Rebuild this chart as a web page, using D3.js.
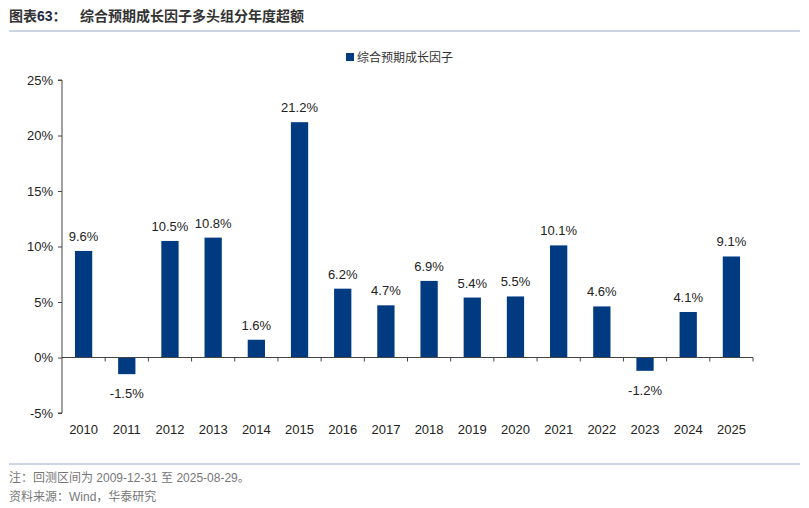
<!DOCTYPE html>
<html><head><meta charset="utf-8">
<script src="https://cdn.jsdelivr.net/npm/d3@7"></script>
<style>body{margin:0;background:#fff;}svg{display:block;}</style>
</head><body>
<svg id="c" width="809" height="508"></svg>
<script>
const categories = ["2010","2011","2012","2013","2014","2015","2016","2017","2018","2019","2020","2021","2022","2023","2024","2025"];
const values = [9.6,-1.5,10.5,10.8,1.6,21.2,6.2,4.7,6.9,5.4,5.5,10.1,4.6,-1.2,4.1,9.1];
const yTicks = [-5,0,5,10,15,20,25];
const seriesName = "综合预期成长因子";
const titleText = "综合预期成长因子多头组分年度超额";
const noteText = "注：回测区间为 2009-12-31 至 2025-08-29。";
const sourceText = "资料来源：Wind，华泰研究";

const svg = d3.select("#c");
const barColor = "#003A80";
const cjk = "'Noto Sans CJK SC', sans-serif";
const latin = "'Liberation Sans', Arial, sans-serif";
const mixed = "'Liberation Sans', 'Noto Sans CJK SC', sans-serif";

// title
const t = svg.append("text").attr("x", 9).attr("y", 21).attr("font-family", cjk).attr("font-weight", "bold").attr("font-size", 14).attr("fill", "#333");
t.append("tspan").text("图表");
t.append("tspan").attr("font-family", latin).attr("fill", "#1f2a44").text("63");
t.append("tspan").text("：");
t.append("tspan").attr("x", 80).text(titleText);
svg.append("line").attr("x1", 9).attr("x2", 800).attr("y1", 31).attr("y2", 31).attr("stroke", "#9aaec8").attr("stroke-width", 1);

// legend
svg.append("rect").attr("x", 346).attr("y", 53).attr("width", 8).attr("height", 8).attr("fill", barColor);
svg.append("text").attr("x", 357).attr("y", 61.5).attr("font-family", cjk).attr("font-size", 12).attr("fill", "#333").text(seriesName);

const x = d3.scaleBand().domain(categories).range([62, 753]).paddingInner(0.6).paddingOuter(0.3);
const y = d3.scaleLinear().domain([-5, 25]).range([413, 80]);

// y axis
const ya = svg.append("g").attr("transform", "translate(62,0)")
  .call(d3.axisLeft(y).tickValues(yTicks).tickSize(4).tickFormat(d => d + "%"));
ya.select(".domain").attr("stroke", "#444").attr("d", `M-4,${y(-5)}H0V${y(25)}H-4`);
ya.selectAll(".tick line").attr("stroke", "#444");
ya.selectAll(".tick text").attr("font-family", latin).attr("font-size", 13).attr("fill", "#222").attr("x", -9);

// bars
svg.append("g").selectAll("rect").data(values).join("rect")
  .attr("x", (d, i) => x(categories[i]))
  .attr("width", x.bandwidth())
  .attr("y", d => y(Math.max(0, d)))
  .attr("height", d => Math.abs(y(d) - y(0)))
  .attr("fill", barColor);

// x axis at zero
const step = x.step();
svg.append("line").attr("x1", 62).attr("x2", 753).attr("y1", y(0)).attr("y2", y(0)).attr("stroke", "#444");
svg.append("g").selectAll("line").data(categories).join("line")
  .attr("x1", (d, i) => 62 + step * (i + 1)).attr("x2", (d, i) => 62 + step * (i + 1))
  .attr("y1", y(0)).attr("y2", y(0) + 4).attr("stroke", "#444");

// category labels
svg.append("g").selectAll("text").data(categories).join("text")
  .attr("x", d => x(d) + x.bandwidth() / 2).attr("y", 434)
  .attr("text-anchor", "middle").attr("font-family", latin).attr("font-size", 13).attr("fill", "#222").text(d => d);

// value labels
svg.append("g").selectAll("text").data(values).join("text")
  .attr("x", (d, i) => x(categories[i]) + x.bandwidth() / 2)
  .attr("y", d => d >= 0 ? y(d) - 10 : y(d) + 24)
  .attr("text-anchor", "middle").attr("font-family", latin).attr("font-size", 13).attr("fill", "#222")
  .text(d => d.toFixed(1) + "%");

// footer
svg.append("line").attr("x1", 9).attr("x2", 800).attr("y1", 464).attr("y2", 464).attr("stroke", "#9aaec8").attr("stroke-width", 1);
svg.append("text").attr("x", 9).attr("y", 482).attr("font-family", mixed).attr("font-size", 12).attr("fill", "#777").text(noteText);
svg.append("text").attr("x", 9).attr("y", 501).attr("font-family", mixed).attr("font-size", 12).attr("fill", "#777").text(sourceText);
</script>
</body></html>
